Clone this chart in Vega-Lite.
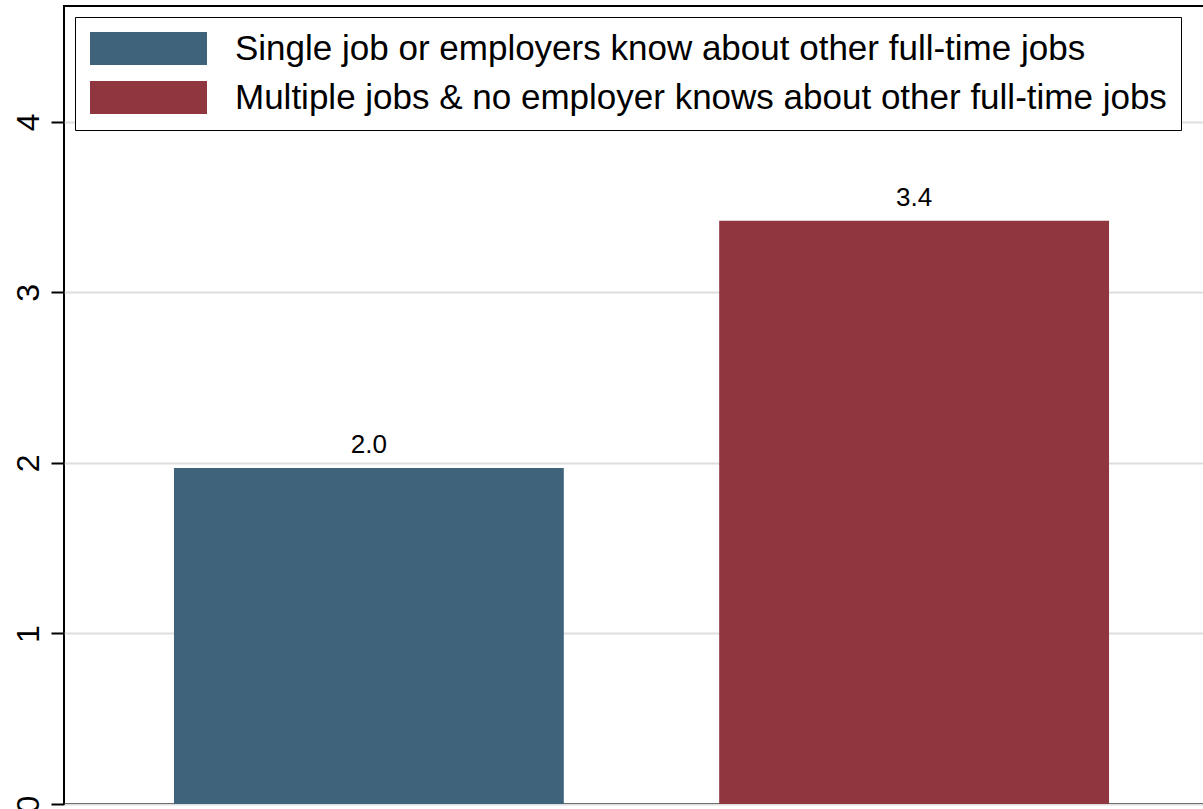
{
  "$schema": "https://vega.github.io/schema/vega-lite/v6.json",
  "width": 1155,
  "height": 798,
  "autosize": "none",
  "padding": {"left": 64, "top": 6, "right": 0, "bottom": 5},
  "background": "white",
  "config": {
    "font": "Liberation Sans",
    "view": {"stroke": "black", "strokeWidth": 2}
  },
  "data": {
    "values": [
      {"group": "Single job or employers know about other full-time jobs", "value": 1.97},
      {"group": "Multiple jobs & no employer knows about other full-time jobs", "value": 3.42}
    ]
  },
  "encoding": {
    "x": {
      "field": "group",
      "type": "nominal",
      "sort": null,
      "scale": {"paddingInner": 0.285, "paddingOuter": 0.2017},
      "axis": null
    },
    "y": {
      "field": "value",
      "type": "quantitative",
      "scale": {"domain": [0, 4.68], "nice": false, "zero": true},
      "axis": {
        "values": [0, 1, 2, 3, 4],
        "title": null,
        "domain": false,
        "labelAngle": -90,
        "labelAlign": "center",
        "labelBaseline": "bottom",
        "labelFontSize": 32,
        "labelColor": "black",
        "labelPadding": 6,
        "tickSize": 13,
        "tickWidth": 2,
        "tickColor": "black",
        "grid": true,
        "gridColor": "#dedede",
        "gridWidth": 2
      }
    }
  },
  "layer": [
    {
      "mark": {"type": "bar"},
      "encoding": {
        "color": {
          "field": "group",
          "type": "nominal",
          "sort": null,
          "scale": {"range": ["#40637c", "#8f363f"]},
          "legend": {
            "orient": "none",
            "legendX": 11,
            "legendY": 11,
            "title": null,
            "padding": 14,
            "strokeColor": "black",
            "fillColor": "white",
            "symbolType": "M-1,-1H6.091V1H-1Z",
            "symbolSize": 1089,
            "symbolStrokeWidth": 0,
            "labelFontSize": 35,
            "labelColor": "black",
            "labelOffset": 111,
            "labelLimit": 2000,
            "rowPadding": 13,
            "labelExpr": "datum.label + '    '"
          }
        }
      }
    },
    {
      "mark": {"type": "text", "dy": -23, "fontSize": 26, "color": "black"},
      "encoding": {
        "text": {"field": "value", "type": "quantitative", "format": ".1f"}
      }
    }
  ]
}
